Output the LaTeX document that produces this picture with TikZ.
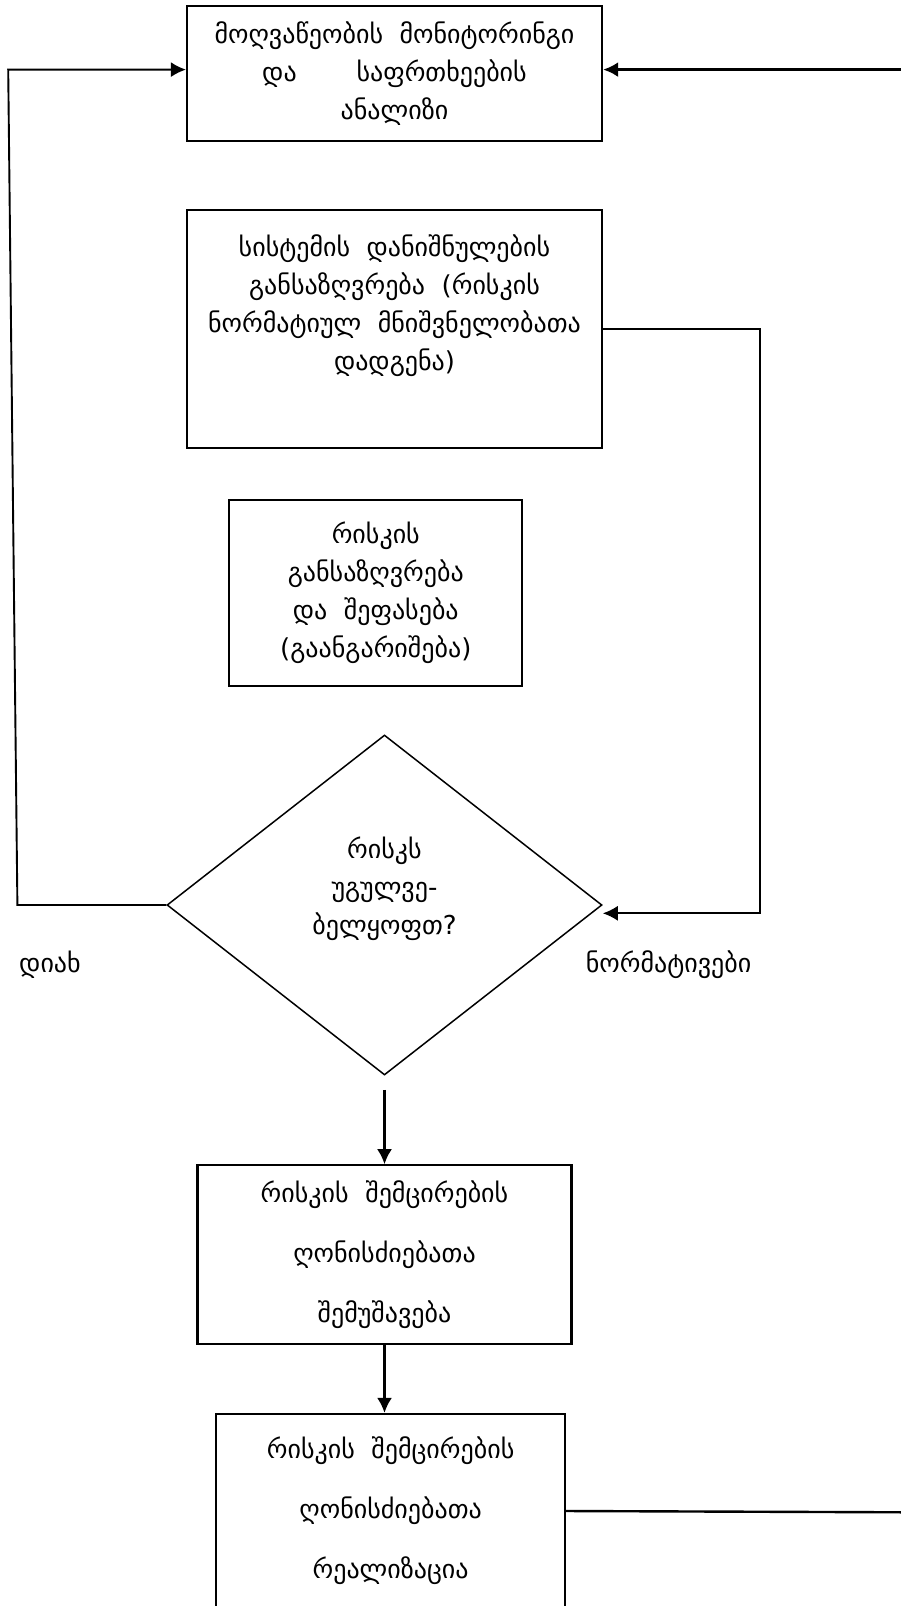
\documentclass[tikz,border=0pt]{standalone}
\usepackage{fontspec}
\setmainfont{DejaVu Sans}[WordSpace=2]
\usepackage{xcolor}
\usepackage{tikz}
\usetikzlibrary{positioning, arrows.meta, shapes.geometric}

\begin{document}
\begin{tikzpicture}[
    x=1pt, y=-1pt,
    font=\fontsize{26}{38}\selectfont,
    block/.style={
        rectangle,
        draw=black,
        line width=2.2pt,
        align=center,
        inner sep=0pt
    },
    decision/.style={
        diamond,
        draw=black,
        line width=1.5pt,
        align=center,
        inner sep=0pt,
        minimum width=435pt,
        minimum height=340pt
    },
    arrow/.style={
        line width=2.4pt,
        -{Latex[length=15pt,width=15pt]}
    },
    feed/.style={
        line width=1.9pt
    }
]

\useasboundingbox (0,0) rectangle (901,1606);

% Nodes
\node[block, minimum width=415pt, minimum height=135pt] (monitor) at (394.5,73.5)
    {მოღვაწეობის მონიტორინგი\\და\hspace{2.3em}საფრთხეების\\ანალიზი};
\node[block, minimum width=415pt, minimum height=238pt] (purpose) at (394.5,329)
    {სისტემის დანიშნულების\\განსაზღვრება (რისკის\\ნორმატიულ მნიშვნელობათა\\დადგენა)\\[14pt]\mbox{}};
\node[block, minimum width=293pt, minimum height=186pt] (assess) at (375.8,592.8)
    {რისკის\\განსაზღვრება\\და შეფასება\\(გაანგარიშება)};
\node[decision] (dec) at (384.5,905) {რისკს\\უგულვე-\\ბელყოფთ?\\\mbox{}};
\node (yes) at (50,964.5) {დიახ};
\node (norms) at (668.6,964.5) {ნორმატივები};
\node[block, minimum width=374pt, minimum height=179pt] (dev) at (384.5,1254.8)
    {რისკის შემცირების\\[22pt]ღონისძიებათა\\[22pt]შემუშავება};
\node[block, minimum width=349pt, minimum height=194pt] (impl) at (390.6,1511)
    {რისკის შემცირების\\[22pt]ღონისძიებათა\\[22pt]რეალიზაცია};

% Coordinates
\coordinate (yesB) at (17.4,905);
\coordinate (yesT) at (8.2,69.6);
\coordinate (topR) at (905,69.6);
\coordinate (normB) at (759.7,913.3);
\coordinate (implR) at (905,1512.3);

% Arrows
\draw[arrow, feed] (dec.west) -- (yesB) -- (yesT) -- (yesT -| monitor.west);
\draw[arrow, line width=2.8pt] (topR) -- (topR -| monitor.east);
\draw[arrow, feed] (purpose.east) -| (normB) -- (normB -| dec.east);
\draw[arrow, shorten <=14pt] (dec) -- (dev);
\draw[arrow] (dev.south) -- (dev.south |- impl.north);
\draw[feed, line width=2.4pt] (impl.east) -- (implR);
\end{tikzpicture}
\end{document}
